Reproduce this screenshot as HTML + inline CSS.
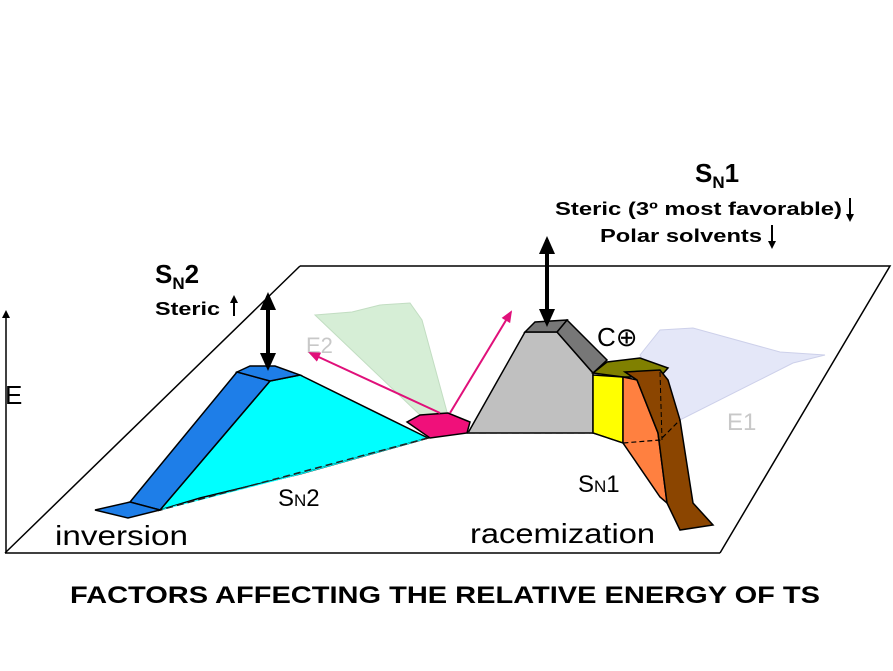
<!DOCTYPE html>
<html><head><meta charset="utf-8"><style>
body{margin:0;background:#fff;width:893px;height:671px;overflow:hidden}
svg{display:block}
text{font-family:"Liberation Sans",sans-serif}
</style></head><body>
<svg width="893" height="671" viewBox="0 0 893 671">
<defs>
<marker id="ah" markerWidth="8" markerHeight="8" refX="6" refY="4" orient="auto" markerUnits="userSpaceOnUse"><path d="M0,0 L8,4 L0,8 Z" fill="#000"/></marker>
<marker id="pk" markerWidth="12" markerHeight="10" refX="10" refY="5" orient="auto" markerUnits="userSpaceOnUse"><path d="M0,0 L12,5 L0,10 Z" fill="#e0107a"/></marker>
<marker id="bk" markerWidth="18" markerHeight="16" refX="14" refY="8" orient="auto" markerUnits="userSpaceOnUse"><path d="M0,0 L18,8 L0,16 Z" fill="#000"/></marker>
</defs>
<polyline points="300,266 890,266 720,553" fill="none" stroke="#000" stroke-width="1.5"/>
<line x1="300" y1="266" x2="5" y2="553" stroke="#000" stroke-width="1.5"/>
<line x1="5" y1="553" x2="720" y2="553" stroke="#000" stroke-width="1.5"/>
<line x1="6" y1="553" x2="6" y2="312" stroke="#000" stroke-width="1.5" marker-end="url(#ah)"/>
<polygon points="315,315 352,312 380,305 410,303 422,320 447,412 420,415" fill="#cfeccf" stroke="#b8d8b8" opacity="0.85"/>
<polygon points="640,355 660,330 693,328 780,352 825,355 793,363 680,420" fill="#e2e5f8" stroke="#c8cce8" opacity="0.9"/>
<text x="306" y="353" font-size="22" fill="#c8c8c8">E2</text>
<text x="727" y="430" font-size="24" fill="#c8c8c8">E1</text>
<polygon points="160,510 270,381 300,375 428,438 300,474 200,498" fill="#00ffff" stroke="#000" stroke-width="1.5"/>
<polyline points="428,438 300,474 160,510" fill="none" stroke="#00ffff"/>
<line x1="428" y1="438" x2="160" y2="510" stroke="#222" stroke-width="1.5" stroke-dasharray="7,4"/>
<polygon points="130,502 237,372 270,381 160,510" fill="#1e7ee8" stroke="#000" stroke-width="1.5"/>
<polygon points="237,372 250,366 275,366 300,375 270,381" fill="#1e7ee8" stroke="#000" stroke-width="1.5"/>
<polygon points="95,510 130,502 160,510 128,518" fill="#1e7ee8" stroke="#000" stroke-width="1.5"/>
<polygon points="407,422 420,415 448,413 470,422 467,433 430,438" fill="#f0107a" stroke="#000" stroke-width="1.5"/>
<line x1="440" y1="413" x2="310" y2="353" stroke="#e0107a" stroke-width="2" marker-end="url(#pk)"/>
<line x1="450" y1="413" x2="511" y2="312" stroke="#e0107a" stroke-width="2" marker-end="url(#pk)"/>
<polygon points="468,433 525,332 557,332 593,373 593,433" fill="#c0c0c0" stroke="#000" stroke-width="1.5"/>
<polygon points="557,332 567,320 607,360 593,373" fill="#777" stroke="#000" stroke-width="1.5"/>
<polygon points="525,332 535,322 567,320 557,332" fill="#777" stroke="#000" stroke-width="1.5"/>
<line x1="468" y1="433" x2="593" y2="433" stroke="#222" stroke-width="1.5" stroke-dasharray="7,4"/>
<polygon points="593,375 623,377 623,443 593,433" fill="#ffff00" stroke="#000" stroke-width="1.5"/>
<polygon points="593,373 607,362 640,358 668,368 660,377 623,377" fill="#808000" stroke="#000" stroke-width="1.5"/>
<polygon points="623,377 637,380 658,433 667,503 660,497 623,443" fill="#ff8040" stroke="#000" stroke-width="1.5"/>
<polygon points="625,372 660,370 668,380 680,420 693,503 713,525 680,530 667,503 658,433 637,380" fill="#8b4500" stroke="#000" stroke-width="1.5"/>
<polyline points="593,433 623,443 660,440 680,420" fill="none" stroke="#000" stroke-width="1.2" stroke-dasharray="5,3"/>
<line x1="660" y1="372" x2="662" y2="440" stroke="#000" stroke-dasharray="5,3"/>
<line x1="268" y1="330" x2="268" y2="296" stroke="#000" stroke-width="4" marker-end="url(#bk)"/>
<line x1="268" y1="330" x2="268" y2="367" stroke="#000" stroke-width="4" marker-end="url(#bk)"/>
<line x1="547" y1="280" x2="547" y2="240" stroke="#000" stroke-width="4" marker-end="url(#bk)"/>
<line x1="547" y1="280" x2="547" y2="323" stroke="#000" stroke-width="4" marker-end="url(#bk)"/>
<text x="155" y="283" font-size="26" font-weight="bold">S<tspan font-size="17" dy="6">N</tspan><tspan dy="-6">2</tspan></text>
<text x="155" y="315" font-size="18" font-weight="bold" textLength="65" lengthAdjust="spacingAndGlyphs">Steric</text>
<line x1="234" y1="316" x2="234" y2="297" stroke="#000" stroke-width="2" marker-end="url(#ah)"/>
<text x="695" y="182" font-size="26" font-weight="bold">S<tspan font-size="17" dy="6">N</tspan><tspan dy="-6">1</tspan></text>
<text x="555" y="215" font-size="18" font-weight="bold" textLength="287" lengthAdjust="spacingAndGlyphs">Steric (3º most favorable)</text>
<line x1="850" y1="198" x2="850" y2="220" stroke="#000" stroke-width="2" marker-end="url(#ah)"/>
<text x="600" y="242" font-size="18" font-weight="bold" textLength="162" lengthAdjust="spacingAndGlyphs">Polar solvents</text>
<line x1="772" y1="225" x2="772" y2="247" stroke="#000" stroke-width="2" marker-end="url(#ah)"/>
<text x="5" y="404" font-size="26">E</text>
<text x="55" y="545" font-size="28" textLength="133" lengthAdjust="spacingAndGlyphs">inversion</text>
<text x="470" y="543" font-size="28" textLength="185" lengthAdjust="spacingAndGlyphs">racemization</text>
<text x="278" y="506" font-size="24">S<tspan font-size="17">N</tspan>2</text>
<text x="578" y="492" font-size="24">S<tspan font-size="17">N</tspan>1</text>
<text x="597" y="346" font-size="26">C⊕</text>
<text x="70" y="603" font-size="24" font-weight="bold" textLength="750" lengthAdjust="spacingAndGlyphs">FACTORS AFFECTING THE RELATIVE ENERGY OF TS</text>
</svg>
</body></html>
